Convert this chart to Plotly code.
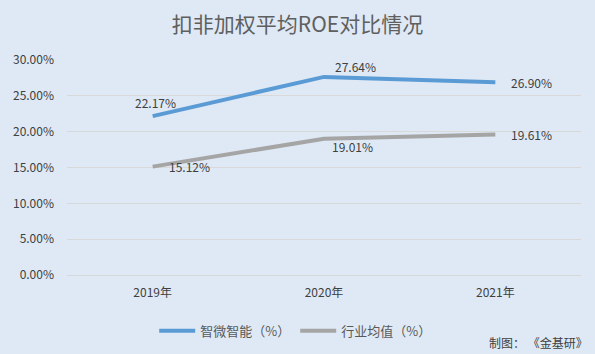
import plotly.graph_objects as go

categories = ["2019年", "2020年", "2021年"]
company = [22.17, 27.64, 26.90]
industry = [15.12, 19.01, 19.61]
company_name = "智微智能（%）"
industry_name = "行业均值（%）"
y_ticks = [0, 5, 10, 15, 20, 25, 30]

FONT = "Noto Sans CJK SC"
BG = "#DEE9F5"
TXT = "#404040"

fig = go.Figure()
fig.add_trace(go.Scatter(x=categories, y=company, mode="lines", name=company_name,
                         line=dict(color="#5B9BD5", width=4)))
fig.add_trace(go.Scatter(x=categories, y=industry, mode="lines", name=industry_name,
                         line=dict(color="#A5A5A5", width=4)))

# label offsets (xshift, yshift) mimicking original placement
comp_off = [(3, 14), (31, 10), (36, 0)]
ind_off = [(37, 0), (28, -8), (36, 0)]
for cat, v, (dx, dy) in zip(categories, company, comp_off):
    fig.add_annotation(x=cat, y=v, text=f"{v:.2f}%", showarrow=False, xshift=dx, yshift=dy,
                       font=dict(family=FONT, size=12, color=TXT))
for cat, v, (dx, dy) in zip(categories, industry, ind_off):
    fig.add_annotation(x=cat, y=v, text=f"{v:.2f}%", showarrow=False, xshift=dx, yshift=dy,
                       font=dict(family=FONT, size=12, color=TXT))

fig.add_annotation(xref="paper", yref="paper", x=1.018, y=-0.315, xanchor="right", yanchor="middle",
                   text="制图： 《金基研》", showarrow=False,
                   font=dict(family=FONT, size=12, color=TXT))

fig.update_layout(
    width=595, height=354,
    paper_bgcolor=BG, plot_bgcolor=BG,
    margin=dict(l=67, r=14, t=60, b=79, autoexpand=False),
    title=dict(text="扣非加权平均ROE对比情况", x=0.5, xanchor="center", y=0.93, yanchor="middle",
               font=dict(family=FONT, size=21, color="#5F5F5F")),
    font=dict(family=FONT, size=12, color=TXT),
    showlegend=True,
    legend=dict(orientation="h", x=0.444, xanchor="center", y=-0.26, yanchor="middle",
                font=dict(family=FONT, size=13, color="#595959"), bgcolor="rgba(0,0,0,0)",
                itemwidth=36),
    xaxis=dict(showgrid=False, showline=True, linecolor="#D9D9D9", ticks="",
               range=[-0.5, 2.5], ticklabelstandoff=7,
               tickfont=dict(family=FONT, size=12, color=TXT)),
    yaxis=dict(range=[0, 30], tickvals=y_ticks, ticktext=[f"{t:.2f}%" for t in y_ticks],
               showgrid=True, gridcolor="#D9D9D9", gridwidth=1, zeroline=False,
               ticklabelstandoff=12,
               tickfont=dict(family=FONT, size=12, color=TXT)),
)

fig.write_html("out.html")
